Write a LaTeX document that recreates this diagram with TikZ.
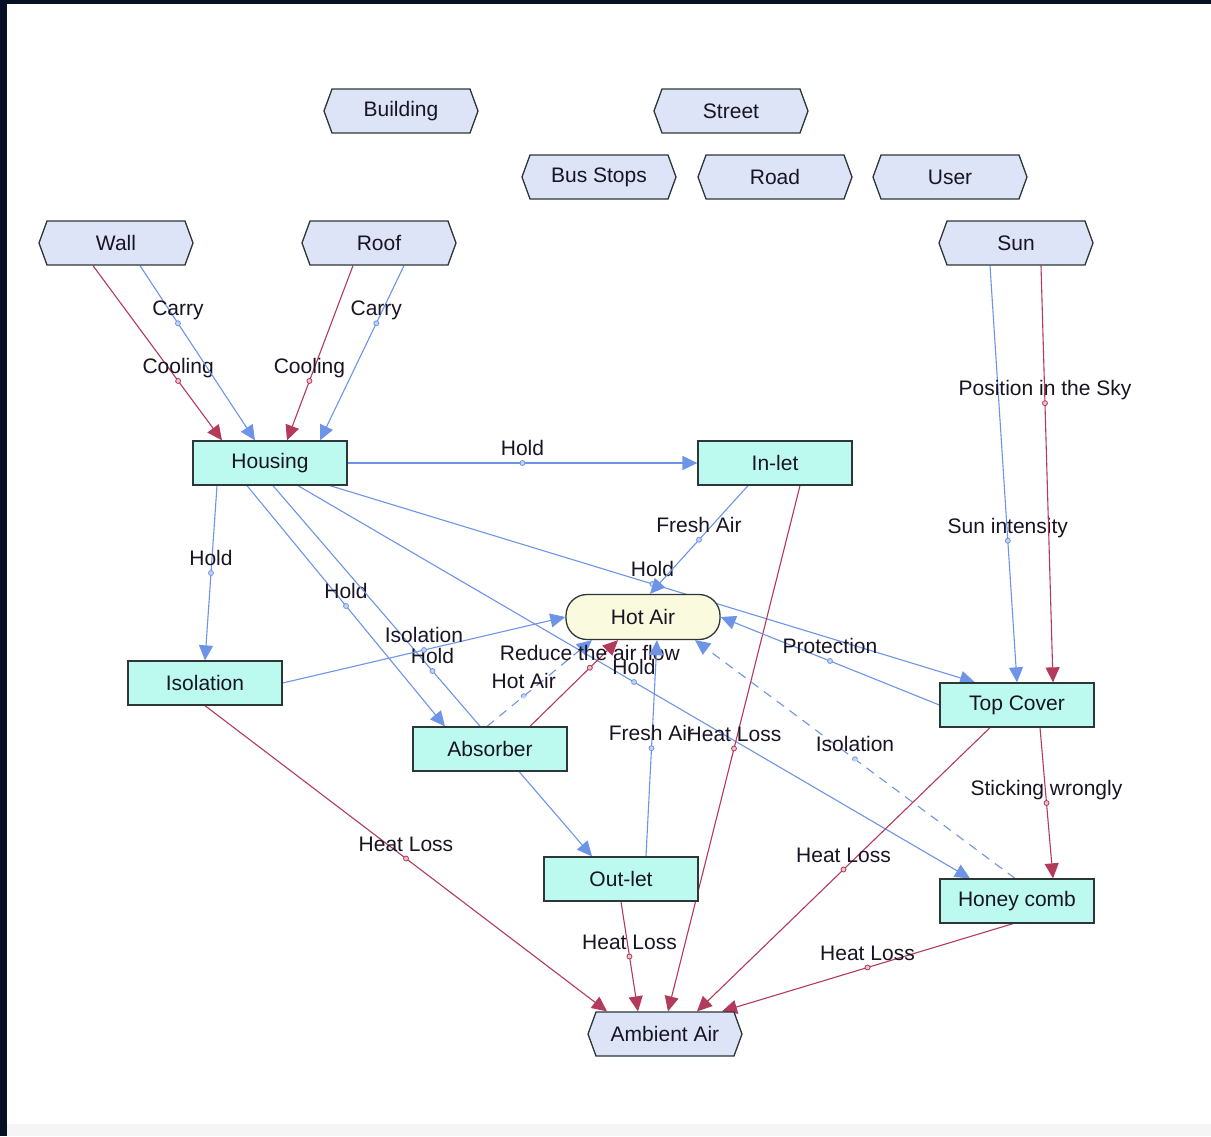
\documentclass[tikz,border=0pt]{standalone}
\usepackage{fontspec}
\setmainfont{Liberation Sans}
\usetikzlibrary{arrows.meta,shapes.symbols,calc}
\pgfdeclarelayer{back}
\pgfdeclarelayer{edges}
\pgfsetlayers{back,edges,main}
\definecolor{hexfill}{RGB}{221,228,248}
\definecolor{boxfill}{RGB}{188,250,240}
\definecolor{hotfill}{RGB}{250,250,222}
\definecolor{nodeborder}{RGB}{45,55,55}
\definecolor{blueline}{RGB}{110,148,232}
\definecolor{redline}{RGB}{180,58,92}
\definecolor{frame}{RGB}{6,16,36}
\definecolor{lbltext}{RGB}{25,20,35}
\begin{document}
\begin{tikzpicture}[x=1pt,y=-1pt,
  font=\fontsize{21}{24}\selectfont,
  hexnode/.style={signal, signal to=west and east, signal pointer angle=140,
    draw=nodeborder, line width=1.3pt, fill=hexfill, minimum width=154pt,
    minimum height=44pt, inner sep=0pt, text=lbltext},
  boxnode/.style={rectangle, draw=nodeborder, line width=1.3pt, fill=boxfill,
    minimum width=154pt, minimum height=44pt, inner sep=0pt, text=lbltext},
  hotnode/.style={rectangle, rounded corners=21pt, draw=nodeborder, line width=1.3pt,
    fill=hotfill, minimum width=154pt, minimum height=45pt, inner sep=0pt, text=lbltext},
  bl/.style={draw=blueline, line width=1.1pt, -{Triangle[length=15pt,width=14pt]}, blueline},
  rd/.style={draw=redline, line width=1.1pt, -{Triangle[length=15pt,width=14pt]}, redline},
  dsh/.style={dash pattern=on 9pt off 7pt},
  dotb/.style={circle, draw=blueline, fill=blueline!40, inner sep=0pt, minimum size=5pt, line width=.8pt},
  dotr/.style={circle, draw=redline, fill=redline!30, inner sep=0pt, minimum size=5pt, line width=.8pt},
  lbl/.style={anchor=base, yshift=7.5pt, inner sep=0pt, text=lbltext}
]
\useasboundingbox (0,0) rectangle (1211,1136);
\begin{pgfonlayer}{back}
  \fill[white] (0,0) rectangle (1211,1136);
  \fill[black!4] (7,1124) rectangle (1211,1136);
  \fill[frame] (0,0) rectangle (1211,4);
  \fill[frame] (0,0) rectangle (7,1136);
\end{pgfonlayer}

% nodes
\node[hexnode] (building) at (401,111) {Building};
\node[hexnode] (street) at (731,111) {Street};
\node[hexnode] (busstops) at (599,177) {Bus Stops};
\node[hexnode] (road) at (775,177) {Road};
\node[hexnode] (user) at (950,177) {User};
\node[hexnode] (wall) at (116,243) {Wall};
\node[hexnode] (roof) at (379,243) {Roof};
\node[hexnode] (sun) at (1016,243) {Sun};
\node[hexnode] (ambient) at (665,1034) {Ambient Air};
\node[boxnode] (housing) at (270,463) {Housing};
\node[boxnode] (inlet) at (775,463) {In-let};
\node[boxnode] (isolation) at (205,683) {Isolation};
\node[boxnode] (absorber) at (490,749) {Absorber};
\node[boxnode] (topcover) at (1017,705) {Top Cover};
\node[boxnode] (honeycomb) at (1017,901) {Honey comb};
\node[boxnode] (outlet) at (621,879) {Out-let};
\node[hotnode] (hotair) at (643,617) {Hot Air};

\begin{pgfonlayer}{edges}
% Wall / Roof -> Housing
\draw[rd] ([xshift=-23pt]wall.south) -- ([xshift=-48pt]housing.north)
  node[dotr,pos=.66]{} node[lbl,pos=.66]{Cooling};
\draw[bl] ([xshift=24pt]wall.south) -- ([xshift=-15pt]housing.north)
  node[dotb,pos=.33]{} node[lbl,pos=.33]{Carry};
\draw[rd] ([xshift=-26pt]roof.south) -- ([xshift=17pt]housing.north)
  node[dotr,pos=.66]{} node[lbl,pos=.66]{Cooling};
\draw[bl] ([xshift=25pt]roof.south) -- ([xshift=50pt]housing.north)
  node[dotb,pos=.33]{} node[lbl,pos=.33]{Carry};
% Housing out
\draw[bl, line width=1.8pt] (housing.east) -- (inlet.west)
  node[dotb,pos=.5]{} node[lbl,pos=.5]{Hold};
\draw[bl] ([xshift=-53pt]housing.south) -- (isolation.north)
  node[dotb,pos=.5]{} node[lbl,pos=.5]{Hold};
\draw[bl] ([xshift=-23pt]housing.south) -- ([xshift=-45pt]absorber.north)
  node[dotb,pos=.5]{} node[lbl,pos=.5]{Hold};
\draw[bl] ([xshift=3pt]housing.south) -- ([xshift=-29pt]outlet.north)
  node[dotb,pos=.5]{} node[lbl,pos=.5]{Hold};
\draw[bl] ([xshift=28pt]housing.south) -- ([xshift=-47pt]honeycomb.north)
  node[dotb,pos=.5]{} node[lbl,pos=.5]{Hold};
\draw[bl] ([xshift=60pt]housing.south) -- ([xshift=-42pt]topcover.north)
  node[dotb,pos=.5]{} node[lbl,pos=.5]{Hold};
% In-let
\draw[bl] ([xshift=-27pt]inlet.south) -- ([xshift=7pt]hotair.north)
  node[dotb,pos=.5]{} node[lbl,pos=.5]{Fresh Air};
\draw[rd] ([xshift=25pt]inlet.south) -- ([xshift=3pt]ambient.north)
  node[dotr,pos=.5]{} node[lbl,pos=.5]{Heat Loss};
% Isolation
\draw[bl] (isolation.east) -- (hotair.west)
  node[dotb,pos=.5]{} node[lbl,pos=.5]{Isolation};
\draw[rd] (isolation.south) -- ([xshift=-58pt]ambient.north)
  node[dotr,pos=.5]{} node[lbl,pos=.5]{Heat Loss};
% Absorber
\draw[bl, dsh] ([xshift=-3pt]absorber.north) -- ([xshift=-51pt]hotair.south)
  node[dotb,pos=.35]{} node[lbl,pos=.35]{Hot Air};
\draw[rd] ([xshift=40pt]absorber.north) -- ([xshift=-25pt]hotair.south)
  node[dotr,pos=.68]{} node[lbl,pos=.68]{Reduce the air flow};
% Out-let
\draw[bl] ([xshift=25pt]outlet.north) -- ([xshift=14pt]hotair.south)
  node[dotb,pos=.5]{} node[lbl,pos=.5]{Fresh Air};
\draw[rd] (outlet.south) -- ([xshift=-27pt]ambient.north)
  node[dotr,pos=.5]{} node[lbl,pos=.5]{Heat Loss};
% Top Cover
\draw[bl] (topcover.west) -- (hotair.east)
  node[dotb,pos=.5]{} node[lbl,pos=.5]{Protection};
\draw[rd] ([xshift=-27pt]topcover.south) -- ([xshift=32pt]ambient.north)
  node[dotr,pos=.5]{} node[lbl,pos=.5]{Heat Loss};
\draw[rd] ([xshift=23pt]topcover.south) -- ([xshift=36pt]honeycomb.north)
  node[dotr,pos=.5]{} node[lbl,pos=.5]{Sticking wrongly};
% Honey comb
\draw[bl, dsh] ([xshift=-2pt]honeycomb.north) -- ([xshift=52pt]hotair.south)
  node[dotb,pos=.5]{} node[lbl,pos=.5]{Isolation};
\draw[rd] ([xshift=-4pt]honeycomb.south) -- ([xshift=57pt]ambient.north)
  node[dotr,pos=.5]{} node[lbl,pos=.5]{Heat Loss};
% Sun
\draw[bl] ([xshift=-26pt]sun.south) -- (topcover.north)
  node[dotb,pos=.66]{} node[lbl,pos=.66]{Sun intensity};
\draw[rd] ([xshift=25pt]sun.south) -- ([xshift=36pt]topcover.north)
  node[dotr,pos=.33]{} node[lbl,pos=.33]{Position in the Sky};
\end{pgfonlayer}
\end{tikzpicture}
\end{document}
